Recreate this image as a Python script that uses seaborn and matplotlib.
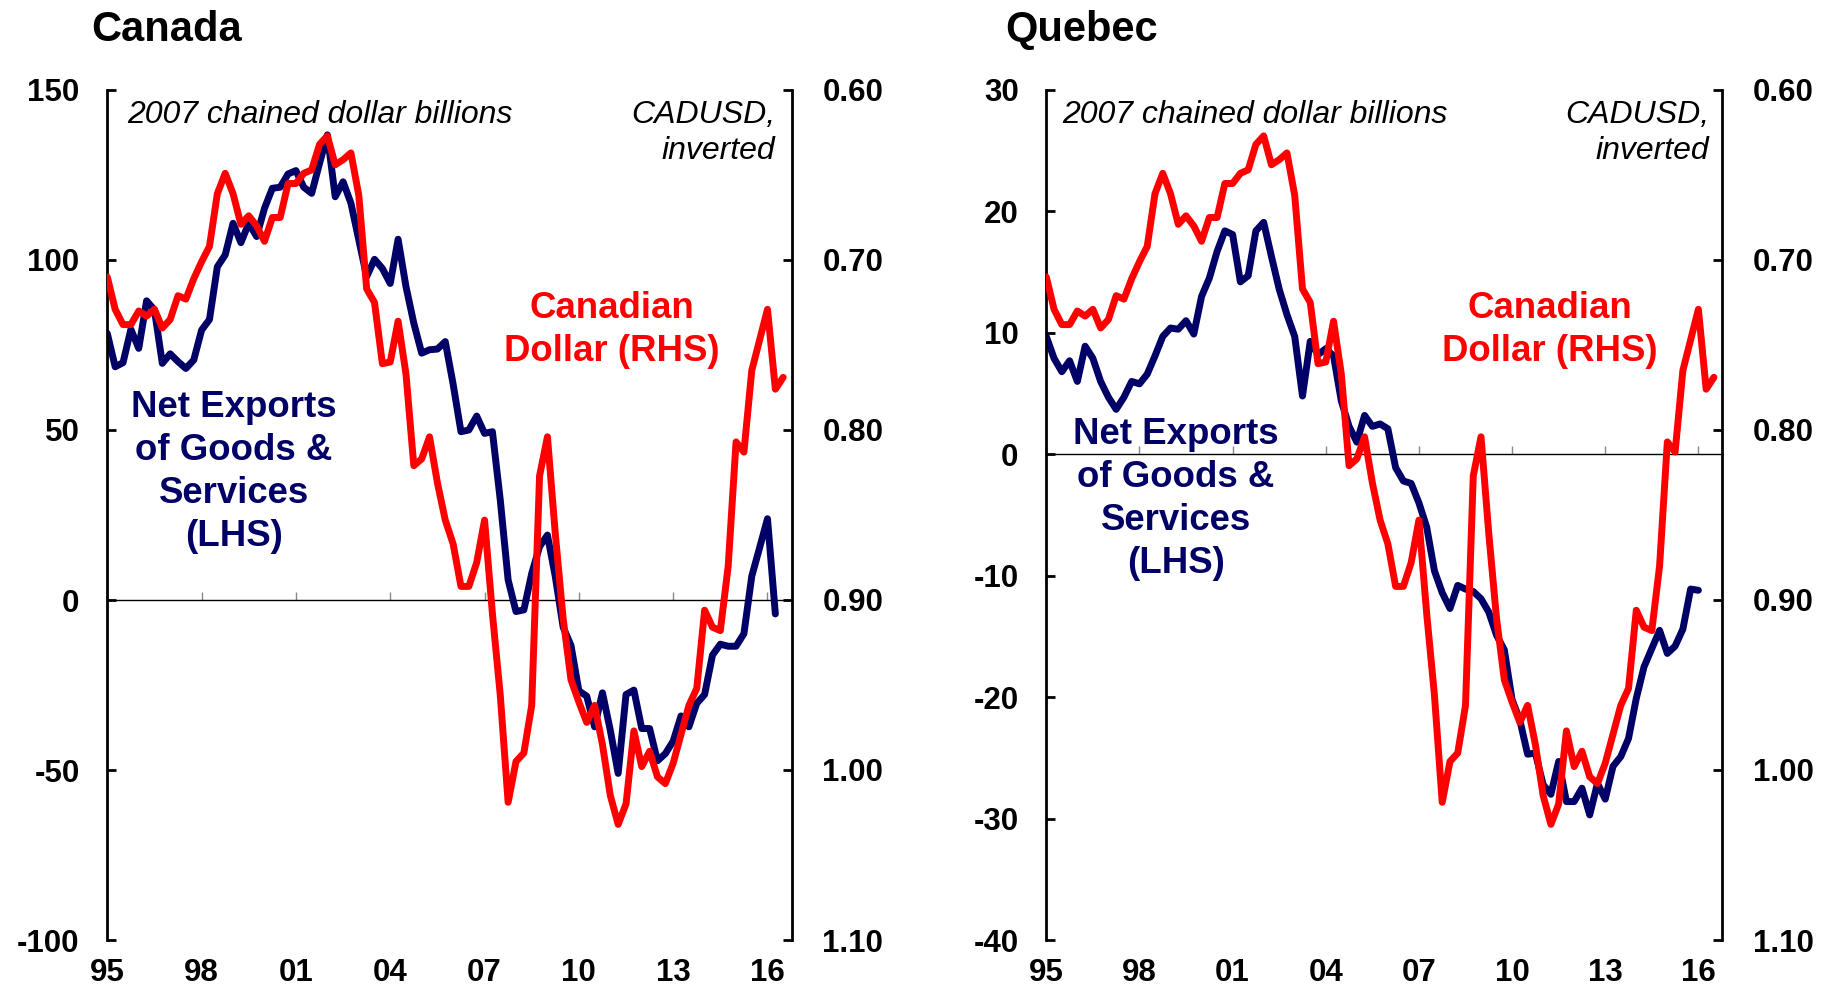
import numpy as np
import pandas as pd
import matplotlib
matplotlib.use("Agg")
import matplotlib.pyplot as plt
import seaborn as sns

# Quarterly data, 1995Q1 onwards
cad_usd = [0.710, 0.729, 0.738, 0.738, 0.730, 0.733, 0.729, 0.740, 0.735, 0.721,
           0.723, 0.711, 0.701, 0.692, 0.661, 0.649, 0.661, 0.679, 0.674, 0.680,
           0.689, 0.675, 0.675, 0.655, 0.655, 0.649, 0.647, 0.632, 0.627, 0.644,
           0.641, 0.637, 0.662, 0.717, 0.725, 0.761, 0.760, 0.736, 0.767, 0.821,
           0.817, 0.804, 0.831, 0.853, 0.867, 0.892, 0.892, 0.878, 0.853, 0.908,
           0.956, 1.019, 0.995, 0.990, 0.962, 0.827, 0.804, 0.861, 0.911, 0.947,
           0.960, 0.972, 0.962, 0.985, 1.015, 1.032, 1.020, 0.977, 0.998, 0.989,
           1.004, 1.008, 0.996, 0.979, 0.962, 0.952, 0.906, 0.916, 0.918, 0.880,
           0.807, 0.813, 0.765, 0.747, 0.729, 0.776, 0.769]

canada_nx = [78.4, 68.6, 69.8, 79.6, 74.0, 88.0, 85.3, 69.6, 72.4, 70.1,
             68.1, 70.6, 79.4, 82.5, 98.0, 101.5, 110.8, 105.1, 110.8, 106.9,
             115.2, 121.1, 121.4, 125.3, 126.3, 121.4, 119.6, 128.4, 136.8, 118.6,
             123.0, 116.7, 105.9, 95.1, 100.2, 97.5, 93.1, 106.1, 92.2, 81.4,
             72.6, 73.6, 73.8, 76.0, 63.5, 49.5, 50.0, 54.1, 49.0, 49.5,
             29.4, 5.9, -3.4, -2.9, 7.8, 15.7, 19.1, 6.9, -8.0, -13.4,
             -26.7, -28.3, -37.3, -27.3, -38.3, -51.0, -27.8, -26.5, -37.8, -37.8,
             -47.3, -45.2, -41.5, -34.1, -37.3, -30.4, -27.8, -16.2, -13.0, -13.6,
             -13.6, -9.9, 7.0, 15.4, 23.9, -4.1]

quebec_nx = [9.7, 7.9, 6.8, 7.7, 6.0, 8.9, 7.9, 6.0, 4.7, 3.7,
             4.7, 6.0, 5.8, 6.6, 8.1, 9.7, 10.4, 10.3, 11.0, 9.9,
             13.0, 14.5, 16.7, 18.4, 18.1, 14.2, 14.7, 18.4, 19.1, 16.3,
             13.6, 11.5, 9.7, 4.8, 9.3, 8.2, 8.7, 8.1, 4.4, 2.3,
             1.0, 3.2, 2.3, 2.5, 2.1, -1.1, -2.2, -2.4, -4.0, -6.0,
             -9.6, -11.4, -12.7, -10.8, -11.1, -11.3, -11.9, -13.0, -14.9, -16.1,
             -20.2, -21.9, -24.7, -24.6, -27.2, -28.0, -25.3, -28.6, -28.6, -27.5,
             -29.7, -27.1, -28.4, -25.7, -24.9, -23.4, -20.1, -17.5, -16.0, -14.5,
             -16.4, -15.8, -14.4, -11.1, -11.2]

year_ticks = [1995, 1998, 2001, 2004, 2007, 2010, 2013, 2016]
year_labels = ["95", "98", "01", "04", "07", "10", "13", "16"]
rhs_ticks = [0.60, 0.70, 0.80, 0.90, 1.00, 1.10]
rhs_labels = ["0.60", "0.70", "0.80", "0.90", "1.00", "1.10"]

NAVY = "#000066"
RED = "#ff0000"

sns.set_style("white")
plt.rcParams["font.family"] = ["Liberation Sans", "DejaVu Sans"]
plt.rcParams["text.color"] = "black"
plt.rcParams["xtick.color"] = "black"
plt.rcParams["ytick.color"] = "black"

W, H = 1829, 994
fig = plt.figure(figsize=(W / 100, H / 100), dpi=100)


def fx(x):
    return x / W


def fy(y):
    return 1 - y / H


def quarters(n):
    return 1995 + np.arange(n) / 4


def panel(left_px, right_px, nx, lhs_lim, lhs_ticks):
    ax = fig.add_axes([fx(left_px), fy(940), (right_px - left_px) / W, 850 / H])
    df_nx = pd.DataFrame({"date": quarters(len(nx)), "value": nx})
    df_cad = pd.DataFrame({"date": quarters(len(cad_usd)), "value": cad_usd})

    sns.lineplot(data=df_nx, x="date", y="value", ax=ax, color=NAVY, linewidth=5.0)
    ax.set_xlim(1995, 2016.77)
    ax.set_ylim(*lhs_lim)
    ax.set_yticks(lhs_ticks)
    ax.set_yticklabels([str(t) for t in lhs_ticks])
    ax.set_xticks(year_ticks)
    ax.set_xticklabels(year_labels)
    ax.set_xlabel("")
    ax.set_ylabel("")
    for s in ["top", "right", "bottom"]:
        ax.spines[s].set_visible(False)
    ax.spines["left"].set_linewidth(2)
    ax.spines["left"].set_color("black")
    ax.tick_params(axis="y", direction="in", length=6.5, width=2, pad=20,
                   labelsize=22.5, colors="black", left=True)
    ax.tick_params(axis="x", length=0, pad=13, labelsize=22.5, colors="black")
    for lab in ax.get_xticklabels() + ax.get_yticklabels():
        lab.set_fontweight("bold")

    # zero line with year ticks
    zero = -lhs_lim[0] / (lhs_lim[1] - lhs_lim[0])
    sec = ax.secondary_xaxis(zero)
    sec.set_alignment("bottom")
    sec.set_xticks(year_ticks)
    sec.tick_params(axis="x", direction="in", length=6, width=1, color="#888888",
                    labelbottom=False, labeltop=False)
    sec.spines["bottom"].set_linewidth(1)
    sec.spines["bottom"].set_color("black")

    ax2 = ax.twinx()
    sns.lineplot(data=df_cad, x="date", y="value", ax=ax2, color=RED, linewidth=5.0)
    ax2.set_ylim(1.10, 0.60)
    ax2.set_yticks(rhs_ticks)
    ax2.set_yticklabels(rhs_labels)
    ax2.set_ylabel("")
    ax2.set_xlim(1995, 2016.77)
    for s in ["top", "left", "bottom"]:
        ax2.spines[s].set_visible(False)
    ax2.spines["right"].set_linewidth(2)
    ax2.spines["right"].set_color("black")
    ax2.tick_params(axis="y", direction="in", length=6.5, width=2, pad=22,
                    labelsize=22.5, colors="black", right=True)
    for lab in ax2.get_yticklabels():
        lab.set_fontweight("bold")
    ax2.grid(False)
    ax.grid(False)
    return ax


panel(107.3, 791.7, canada_nx, (-100, 150), [-100, -50, 0, 50, 100, 150])
panel(1046.3, 1722.3, quebec_nx, (-40, 30), [-40, -30, -20, -10, 0, 10, 20, 30])

# titles
fig.text(fx(91), fy(30), "Canada", fontsize=30, fontweight="bold", va="center", ha="left")
fig.text(fx(1005), fy(30), "Quebec", fontsize=30, fontweight="bold", va="center", ha="left")

# units
for lx, rx in [(126.7, 775), (1061.7, 1709)]:
    fig.text(fx(lx), fy(100), "2007 chained dollar billions", fontsize=23,
             style="italic", va="top", ha="left")
    fig.text(fx(rx), fy(100), "CADUSD,\ninverted", fontsize=23, style="italic",
             va="top", ha="right", linespacing=1.25)

# series labels
for cx, cy in [(234, 472), (1176, 499)]:
    fig.text(fx(cx), fy(cy), "Net Exports\nof Goods &\nServices\n(LHS)", fontsize=26.4,
             fontweight="bold", color=NAVY, ha="center", va="center", linespacing=1.285)
for cx in [612, 1550]:
    fig.text(fx(cx), fy(330), "Canadian\nDollar (RHS)", fontsize=26.4,
             fontweight="bold", color=RED, ha="center", va="center", linespacing=1.285)

fig.savefig("out.png", dpi=100)
